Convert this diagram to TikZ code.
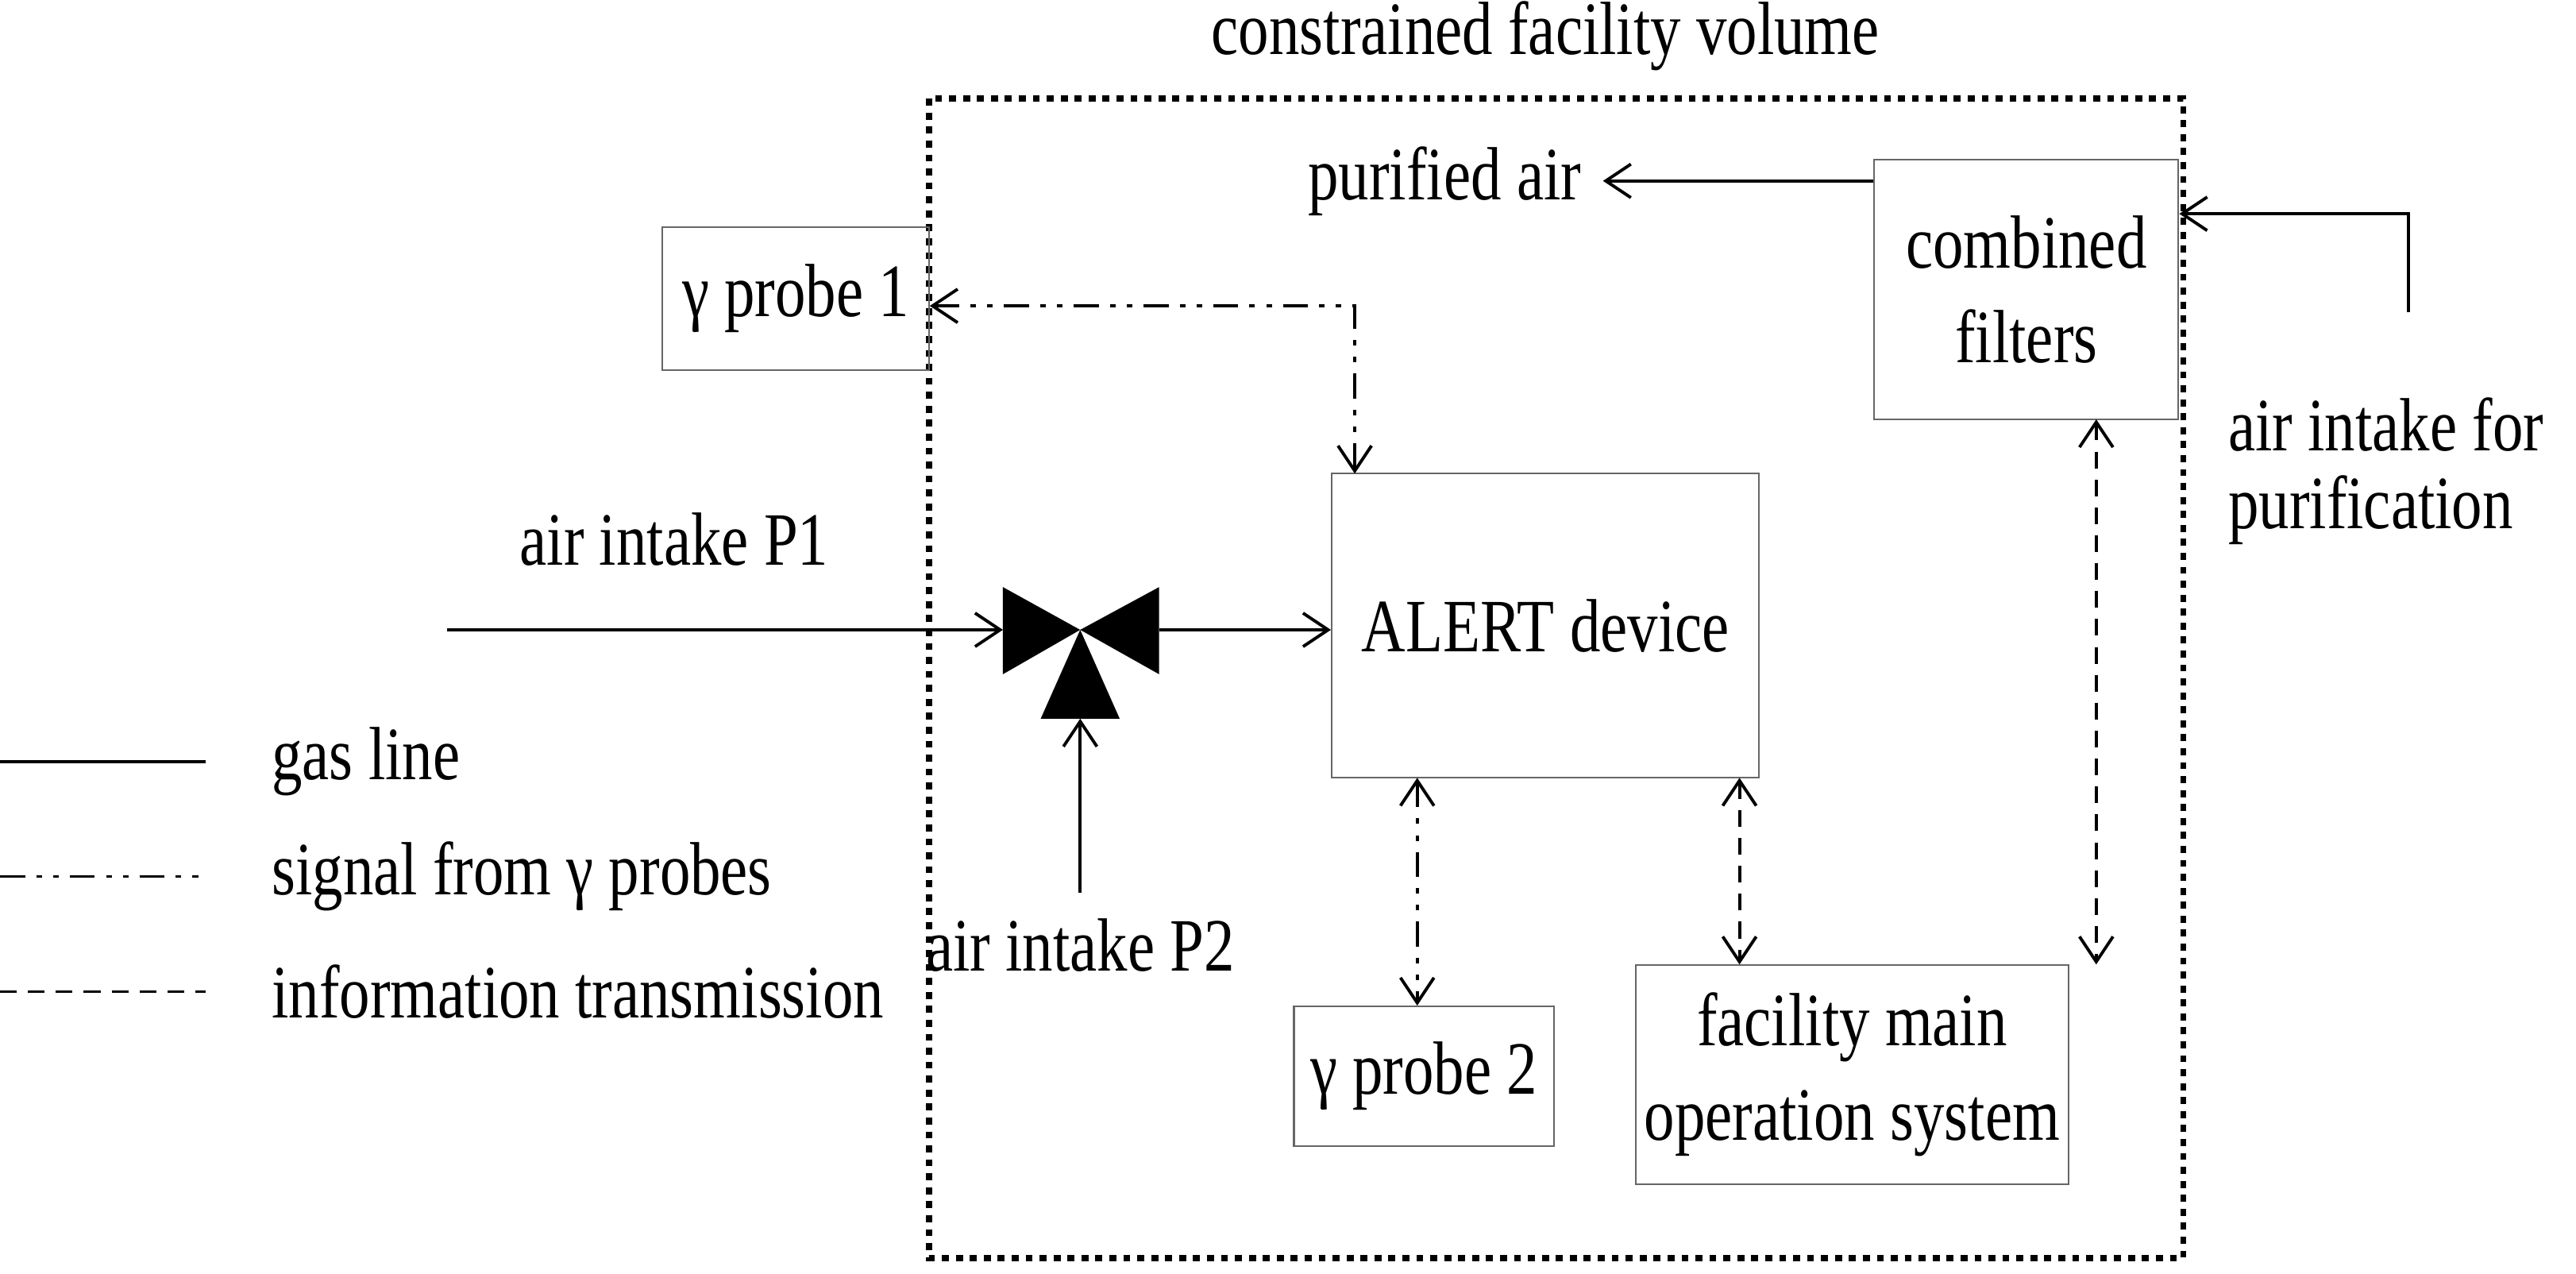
\documentclass[tikz,border=0pt]{standalone}
\usepackage{fontspec}
\setmainfont{Liberation Serif}
\usepackage{graphicx}
\usetikzlibrary{arrows.meta}
\newcommand{\tx}[1]{\scalebox{0.81}[1]{#1}}
\begin{document}
\begin{tikzpicture}[x=0.020705cm,y=-0.020705cm,
  lbl/.style={inner sep=0pt,font=\fontsize{27}{30}\selectfont},
  box/.style={draw=black!60,line width=0.6pt,inner sep=0pt},
  gas/.style={line width=1.1pt,-{Straight Barb[length=9pt,width=12pt]}},
  sig/.style={line width=1.1pt,dash pattern=on 9pt off 4pt on 2pt off 4pt on 2pt off 4pt,{Straight Barb[length=9pt,width=12pt]}-{Straight Barb[length=9pt,width=12pt]}},
  inf/.style={line width=1.1pt,dash pattern=on 6pt off 4pt,{Straight Barb[length=9pt,width=12pt]}-{Straight Barb[length=9pt,width=12pt]}}]
\useasboundingbox (0,0) rectangle (1566.8,774.7);
\draw[line width=2.2pt,dash pattern=on 2.5pt off 2.5pt] (565,60) rectangle (1328,765);
\node[lbl] (cfv) at (940,22) {\tx{constrained facility volume}};
% boxes
\node[box,minimum width=185*0.020705cm,minimum height=158*0.020705cm] (cf) at (1232.5,176) {};
\node[lbl,align=center] at (cf) {\tx{combined}\\[4pt]\tx{filters}};
\node[box,minimum width=162*0.020705cm,minimum height=87*0.020705cm] (g1) at (484,181.5) {};
\node[lbl] at (g1) {\tx{γ probe 1}};
\node[box,minimum width=260*0.020705cm,minimum height=185*0.020705cm] (al) at (940,380.5) {};
\node[lbl] at (al) {\tx{ALERT device}};
\node[box,minimum width=158*0.020705cm,minimum height=85*0.020705cm] (g2) at (866,654.5) {};
\node[lbl] at (g2) {\tx{γ probe 2}};
\node[box,minimum width=263*0.020705cm,minimum height=133*0.020705cm] (fm) at (1126.5,653.5) {};
\node[lbl,align=center] at (fm) {\tx{facility main}\\[4pt]\tx{operation system}};
% valve
\coordinate (vc) at (657,383);
\fill (610,357) -- (vc) -- (610,410) -- cycle;
\fill (705,357) -- (vc) -- (705,410) -- cycle;
\fill (vc) -- (633,437) -- (681,437) -- cycle;
\coordinate (vl) at (610,383);
\coordinate (vr) at (705,383);
\coordinate (vb) at (657,437);
% gas lines
\node[lbl,anchor=east] (pa) at (962,110) {\tx{purified air}};
\draw[gas] (cf.west |- 0,110) -- (975,110);
\coordinate (ai) at (1465,190);
\draw[gas] (ai) -- (1465,130) -- (cf.east |- 0,130);
\node[lbl,anchor=west] (ai1) at (1355,258) {\tx{air intake for}};
\node[lbl,anchor=west] (ai2) at (1355,310) {\tx{purification}};
\coordinate (p1) at (272,383);
\node[lbl] at (410,328) {\tx{air intake P1}};
\draw[gas] (p1) -- (vl);
\draw[gas] (vr) -- (al.west |- vr);
\coordinate (p2) at (657,543);
\node[lbl] at (657,575) {\tx{air intake P2}};
\draw[gas] (p2) -- (vb);
% signals
\draw[sig] (g1.east |- 0,186) -- (824,186) -- (824,288);
\draw[sig] (862,473) -- (g2.north -| 862,0);
\draw[inf] (1058,473) -- (fm.north -| 1058,0);
\draw[inf] (1275,255) -- (fm.north -| 1275,0);
% legend
\coordinate (l1a) at (0,463); \coordinate (l1b) at (125,463);
\coordinate (l2a) at (0,533); \coordinate (l2b) at (125,533);
\coordinate (l3a) at (0,603); \coordinate (l3b) at (125,603);
\draw[line width=1.1pt] (l1a) -- (l1b);
\draw[line width=1.1pt,dash pattern=on 9pt off 4pt on 2pt off 4pt on 2pt off 4pt] (l2a) -- (l2b);
\draw[line width=1.1pt,dash pattern=on 6pt off 4pt] (l3a) -- (l3b);
\node[lbl,anchor=west] at (165,463) {\tx{gas line}};
\node[lbl,anchor=west] at (165,533) {\tx{signal from γ probes}};
\node[lbl,anchor=west] at (165,603) {\tx{information transmission}};
\end{tikzpicture}
\end{document}
